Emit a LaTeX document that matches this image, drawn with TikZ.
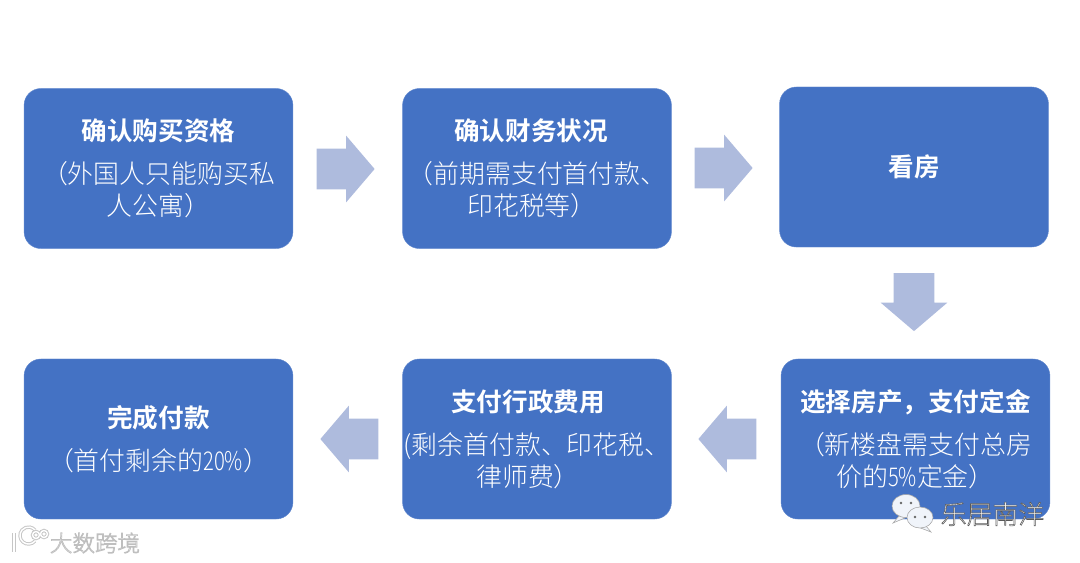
\documentclass[tikz,border=0pt]{standalone}
\usepackage{fontspec}
\setmainfont{Noto Sans CJK SC Light}[BoldFont=Noto Sans CJK SC Bold]
\usetikzlibrary{shapes.arrows}
\definecolor{boxblue}{HTML}{4472C4}
\definecolor{arrowblue}{HTML}{AEBBDD}
\newcommand{\headtext}[1]{{\bfseries\fontsize{18.2}{22}\selectfont #1}}
\newcommand{\narrowtext}[1]{\scalebox{0.78}[1]{#1}}
\newcommand{\outlined}[3]{\special{pdf:code 2 Tr #1 w #2 G}#3\special{pdf:code 0 Tr 1 w 0 G}}
\tikzset{
    stepbox/.style={draw=boxblue!85!white, line width=0.3pt, fill=boxblue, rounded corners=0.42cm, minimum width=6.72cm,
        minimum height=4cm, inner sep=0pt, align=center, text=white, font=\fontsize{18.4}{22.7}\selectfont},
    flowarrow/.style={single arrow, fill=arrowblue, minimum height=1.43cm, minimum width=1.65cm, inner sep=0.5cm,
        single arrow head extend=0.325cm, single arrow tip angle=99},
    bubble/.style={fill=white!92!boxblue, draw=gray!70, line width=0.4pt},
    logoline/.style={draw=gray!45, double=white, double distance=1pt, line width=0.7pt},
}
\begin{document}
\begin{tikzpicture}[x=0.025cm, y=-0.025cm]
    \useasboundingbox (0,0) rectangle (1080,562);

    % Boxes
    \node [stepbox] (buybox) at (158.5,168.5) {\headtext{确认购买资格}\\[8pt]（外国人只能购买私\\人公寓）};
    \node [stepbox] (fundbox) at (537,168.5) {\headtext{确认财务状况}\hspace*{0.3cm}\\[8pt]（前期需支付首付款、\\印花税等）\hspace*{0.25cm}};
    \node [stepbox] (viewbox) at (914,167) {\headtext{看房}};
    \node [stepbox] (housebox) at (915.5,439) {\headtext{选择房产，支付定金}\\[8pt]（新楼盘需支付总房\\价的\narrowtext{5\%}定金）};
    \node [stepbox] (feebox) at (537,439) {\headtext{支付行政费用}\hspace*{0.45cm}\\[8pt](剩余首付款、印花税、\\律师费）\hspace*{0.45cm}};
    \node [stepbox] (endbox) at (158.5,439) {\headtext{完成付款}\\[8pt]（首付剩余的\narrowtext{20\%}）};

    % Arrows
    \node [flowarrow] (arrowa) at (337,169) {};
    \node [flowarrow] (arrowb) at (715,168) {};
    \node [flowarrow, shape border rotate=270] (arrowc) at (914,293.5) {};
    \node [flowarrow, shape border rotate=180] (arrowd) at (736,439) {};
    \node [flowarrow, shape border rotate=180] (arrowe) at (358,439) {};

    % Marks
    \draw [bubble] (899,516) -- (893,523) -- (906,517.5) -- cycle;
    \draw [bubble] (906,506) ellipse (14 and 11.5);
    \draw [bubble] (926,526) -- (931,532) -- (918,527) -- cycle;
    \draw [bubble] (920,517.5) ellipse (13 and 10.5);
    \foreach \i/\j in {901/503, 911/503, 915/517, 925/517}
        \fill [black!60] (\i,\j) circle (1.3);
    \node [inner sep=0pt, text=white, font=\fontsize{18.4}{22}\selectfont] (marktext) at (992.5,514) {\outlined{0.4}{0.35}{乐居南洋}};
    \node [inner sep=0pt, text=white, font=\fontsize{16}{18}\selectfont] (logotext) at (95,543) {\outlined{0.5}{0.75}{大数跨境}};
    \draw [logoline] (14,533) -- (14,552);
    \draw [logoline] (35,541) arc (40:320:8.5);
    \draw [logoline] (36,535) circle (3.5) (44,534) circle (3.5);
\end{tikzpicture}
\end{document}
